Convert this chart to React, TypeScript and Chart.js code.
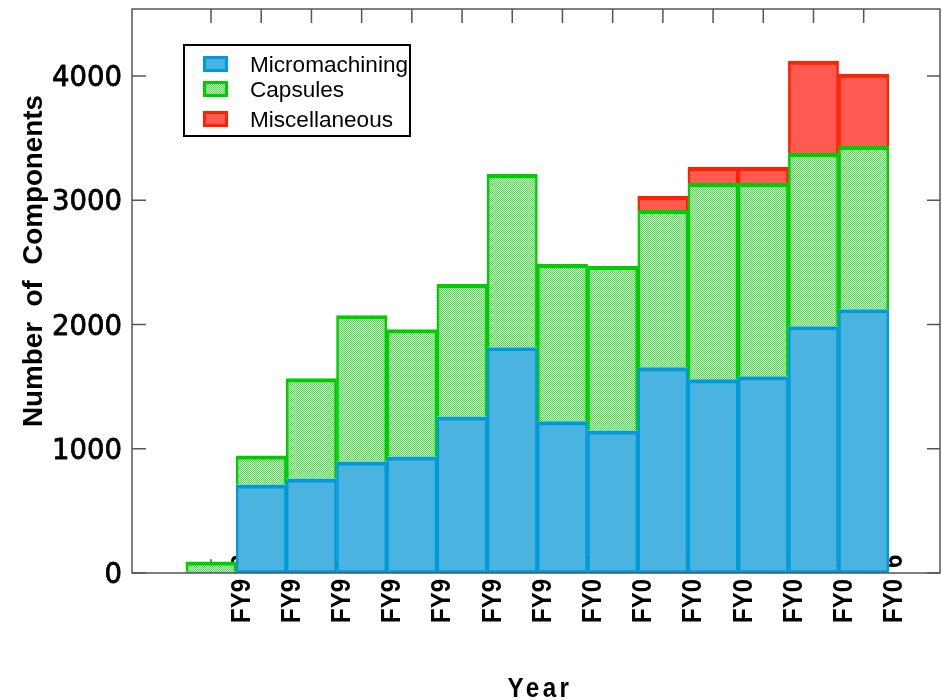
import { useEffect, useRef } from "react";
import { Chart, registerables } from "chart.js";

Chart.register(...registerables);

const years = ["FY93", "FY94", "FY95", "FY96", "FY97", "FY98", "FY99", "FY00", "FY01", "FY02", "FY03", "FY04", "FY05", "FY06"];
const micromachining = [10, 710, 758, 895, 935, 1258, 1815, 1218, 1145, 1653, 1556, 1581, 1984, 2121];
const capsules = [80, 234, 807, 1178, 1025, 1065, 1395, 1266, 1323, 1266, 1581, 1556, 1395, 1314];
const miscellaneous = [0, 0, 0, 0, 0, 0, 0, 0, 0, 113, 129, 129, 742, 581];
const yTicks = [0, 1000, 2000, 3000, 4000];
const seriesNames = ["Micromachining", "Capsules", "Miscellaneous"];

const BLUE_FILL = "#4ab3e0";
const BLUE_EDGE = "#0099da";
const GREEN_EDGE = "#00cc00";
const RED_FILL = "#ff5a52";
const RED_EDGE = "#ff2200";
const AXIS = "#555555";

function makeGreenPattern(): CanvasPattern | string {
  const c = document.createElement("canvas");
  c.width = 2;
  c.height = 2;
  const g = c.getContext("2d");
  if (!g) return "#8fe08f";
  g.fillStyle = "rgb(95,215,95)";
  g.fillRect(0, 0, 2, 2);
  g.fillStyle = "rgb(195,242,195)";
  g.fillRect(1, 0, 1, 1);
  g.fillRect(0, 1, 1, 1);
  const p = g.createPattern(c, "repeat");
  return p || "#8fe08f";
}

function drawText(
  ctx: CanvasRenderingContext2D,
  text: string,
  x: number,
  y: number,
  angle: number,
  font: string,
  k: number,
  align: CanvasTextAlign = "left",
  spacing = 0,
  stroke = 0
) {
  ctx.save();
  ctx.font = font;
  (ctx as any).letterSpacing = spacing + "px";
  ctx.translate(x, y);
  ctx.rotate(angle);
  ctx.scale(k, 1);
  ctx.textAlign = align;
  ctx.textBaseline = "alphabetic";
  ctx.fillStyle = "#000";
  ctx.fillText(text, 0, 0);
  if (stroke > 0) {
    ctx.strokeStyle = "#000";
    ctx.lineWidth = stroke;
    ctx.lineJoin = "round";
    ctx.strokeText(text, 0, 0);
  }
  ctx.restore();
}

function measure(ctx: CanvasRenderingContext2D, text: string, font: string, spacing = 0) {
  ctx.save();
  ctx.font = font;
  (ctx as any).letterSpacing = spacing + "px";
  const w = ctx.measureText(text).width;
  ctx.restore();
  return w;
}

export default function App() {
  const ref = useRef<HTMLCanvasElement | null>(null);

  useEffect(() => {
    document.body.style.margin = "0";
    const canvas = ref.current;
    if (!canvas) return;
    const green = makeGreenPattern();

    const decorPlugin = {
      id: "decor",
      beforeDatasetsDraw(chart: any) {
        const ctx: CanvasRenderingContext2D = chart.ctx;
        const xs = chart.scales.x;
        const area = chart.chartArea;
        ctx.save();
        ctx.strokeStyle = AXIS;
        ctx.lineWidth = 1.5;
        years.forEach((_, i) => {
          const px = xs.getPixelForValue(i + 1);
          ctx.beginPath();
          ctx.moveTo(px, area.bottom);
          ctx.lineTo(px, area.bottom - 14);
          ctx.stroke();
        });
        ctx.restore();
        const lf = "bold 28px 'Liberation Sans'";
        const k = 44 / measure(ctx, "FY9", lf);
        years.forEach((lab, i) => {
          const px = xs.getPixelForValue(i + 1) + 38.5;
          const head = lab.slice(0, 3);
          const tail = lab.slice(3);
          drawText(ctx, head, px, 623, -Math.PI / 2, lf, k);
          // last digit sits a little further along (it falls inside the plot area)
          drawText(ctx, tail, px, 623 - 44 - 11, -Math.PI / 2, lf, k);
        });
      },
      afterDatasetsDraw(chart: any) {
        const ctx: CanvasRenderingContext2D = chart.ctx;
        const xs = chart.scales.x;
        const ys = chart.scales.y;
        const a = chart.chartArea;
        ctx.save();
        ctx.strokeStyle = AXIS;
        ctx.lineWidth = 1.5;
        ctx.strokeRect(a.left, a.top, a.right - a.left, a.bottom - a.top);
        yTicks.forEach((v) => {
          const py = ys.getPixelForValue(v);
          ctx.beginPath();
          ctx.moveTo(a.left, py);
          ctx.lineTo(a.left + 14, py);
          ctx.moveTo(a.right, py);
          ctx.lineTo(a.right - 13, py);
          ctx.stroke();
        });
        years.forEach((_, i) => {
          const px = xs.getPixelForValue(i + 1);
          ctx.beginPath();
          ctx.moveTo(px, a.top);
          ctx.lineTo(px, a.top + 14);
          ctx.stroke();
        });
        ctx.restore();

        yTicks.forEach((v) => {
          const py = ys.getPixelForValue(v);
          drawText(ctx, String(v), 122, py + 10, 0, "27.5px 'DejaVu Sans'", 1, "right", 0, 0.8);
        });

        const tf = "bold 28px 'Liberation Sans'";
        const yt = "Number  of  Components";
        const ky = 332 / measure(ctx, yt, tf);
        drawText(ctx, yt, 42, 427, -Math.PI / 2, tf, ky);

        const xt = "Year";
        const kx = 65 / measure(ctx, xt, tf, 4);
        drawText(ctx, xt, 540, 697, 0, tf, kx, "center", 4);

        ctx.save();
        ctx.fillStyle = "#ffffff";
        ctx.fillRect(184, 45, 226, 91);
        ctx.strokeStyle = "#000";
        ctx.lineWidth = 2;
        ctx.strokeRect(184, 45, 226, 91);
        const fills: (string | CanvasPattern)[] = [BLUE_FILL, green, RED_FILL];
        const edges = [BLUE_EDGE, GREEN_EDGE, RED_EDGE];
        const baselines = [72, 97, 127];
        const legFont = "22px 'Liberation Sans'";
        const kl = 158 / measure(ctx, seriesNames[0], legFont);
        seriesNames.forEach((name, i) => {
          const top = baselines[i] - 16;
          ctx.fillStyle = edges[i];
          ctx.fillRect(203, top, 25, 16);
          ctx.fillStyle = fills[i] as any;
          ctx.fillRect(206, top + 3, 19, 10);
          drawText(ctx, name, 250, baselines[i], 0, legFont, kl);
        });
        ctx.restore();
      },
    };

    const toPoints = (arr: number[]) =>
      arr.map((v, i) => ({ x: i + 1, y: v === 0 ? null : v }));

    const chart = new Chart(canvas, {
      type: "bar",
      data: {
        datasets: [
          {
            label: seriesNames[0],
            data: toPoints(micromachining) as any,
            backgroundColor: BLUE_FILL,
            borderColor: BLUE_EDGE,
            borderWidth: { top: 4, left: 2.5, right: 2.5, bottom: 3 } as any,
            borderSkipped: false,
          },
          {
            label: seriesNames[1],
            data: toPoints(capsules) as any,
            backgroundColor: green as any,
            borderColor: GREEN_EDGE,
            borderWidth: { top: 4, left: 2.5, right: 2.5, bottom: 0 } as any,
            borderSkipped: false,
          },
          {
            label: seriesNames[2],
            data: toPoints(miscellaneous) as any,
            backgroundColor: RED_FILL,
            borderColor: RED_EDGE,
            borderWidth: { top: 4, left: 2.5, right: 2.5, bottom: 0 } as any,
            borderSkipped: false,
          },
        ],
      },
      options: {
        responsive: false,
        animation: false,
        devicePixelRatio: 1,
        layout: { padding: { left: 132, top: 9, right: 3, bottom: 127 } },
        datasets: { bar: { barPercentage: 1, categoryPercentage: 1 } },
        plugins: { legend: { display: false }, tooltip: { enabled: false } },
        scales: {
          x: {
            type: "linear",
            stacked: true,
            offset: false,
            min: -0.574,
            max: 15.52,
            display: false,
            afterBuildTicks: (scale: any) => {
              scale.ticks = years.map((_, i) => ({ value: i + 1 }));
            },
          },
          y: {
            type: "linear",
            stacked: true,
            min: 0,
            max: 4540,
            display: false,
          },
        },
      } as any,
      plugins: [decorPlugin],
    });

    return () => chart.destroy();
  }, []);

  return (
    <canvas
      ref={ref}
      width={943}
      height={700}
      style={{ display: "block", width: 943, height: 700 }}
    />
  );
}
